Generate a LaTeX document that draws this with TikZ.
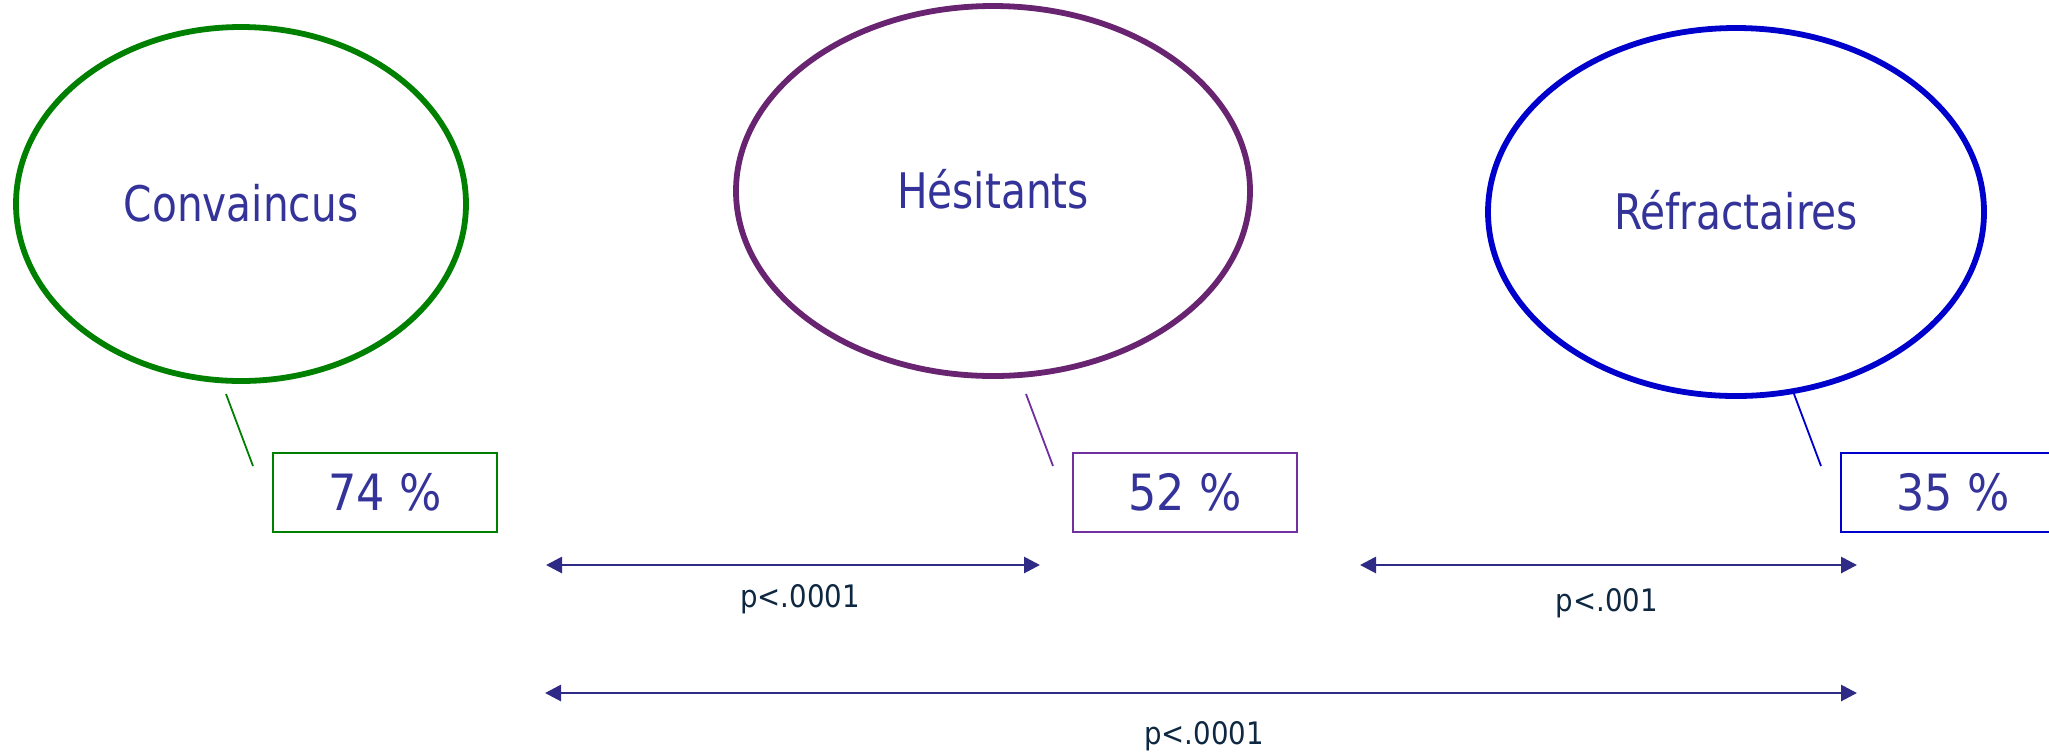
\documentclass[tikz,border=0pt]{standalone}
\usepackage{fontspec}
\setmainfont{DejaVu Sans}[FakeStretch=0.83]
\newfontfamily\widefont{DejaVu Sans}[FakeStretch=0.89]
\usetikzlibrary{shapes.geometric,arrows.meta,calc}

\definecolor{cgreen}{RGB}{0,128,0}
\definecolor{cplum}{RGB}{104,36,112}
\definecolor{cpurple}{RGB}{112,48,160}
\definecolor{cblue}{RGB}{0,0,204}
\definecolor{ctext}{RGB}{51,51,153}
\definecolor{carrow}{RGB}{46,42,134}
\definecolor{clabel}{RGB}{14,40,65}

\begin{document}
\begin{tikzpicture}[x=0.5pt,y=-0.5pt,
  group/.style={ellipse, draw, line width=2.9pt, inner sep=0pt, text=ctext,
    font=\fontsize{24.5}{28}\selectfont, text height=17.9pt, text depth=0pt},
  pctbox/.style={rectangle, draw, line width=1pt, minimum width=112pt,
    minimum height=39.5pt, inner sep=0pt, text=ctext,
    font=\widefont\fontsize{25}{28}\selectfont, text height=18.2pt, text depth=0pt},
  leader/.style={line width=0.9pt},
  cmp/.style={line width=1.4pt, draw=carrow,
    {Triangle[length=8pt,width=8pt]}-{Triangle[length=8pt,width=8pt]}},
  plabel/.style={text=clabel, font=\widefont\fontsize{15.5}{18}\selectfont,
    anchor=base, inner sep=0pt}]

\path[use as bounding box] (0,0) rectangle (2049,752);
\clip (0,0) rectangle (2049,752);

% groups
\node[group, draw=cgreen, minimum width=225pt, minimum height=177pt] (conv) at (241,204) {Convaincus};
\node[group, draw=cplum, minimum width=257pt, minimum height=185pt] (hes) at (993,191) {Hésitants};
\node[group, draw=cblue, minimum width=248pt, minimum height=184pt] (refr) at (1736,212) {Réfractaires};

% percentages
\node[pctbox, draw=cgreen] (p1) at (385,492.5) {74 \%};
\node[pctbox, draw=cpurple] (p2) at (1185,492.5) {52 \%};
\node[pctbox, draw=cblue] (p3) at (1953,492.5) {35 \%};

% callout pointers
\coordinate (l1a) at ($(p1.north west)+(-46,-58)$);
\coordinate (l1b) at ($(p1.north west)+(-19,14)$);
\coordinate (l2a) at ($(p2.north west)+(-46,-58)$);
\coordinate (l2b) at ($(p2.north west)+(-19,14)$);
\coordinate (l3a) at ($(p3.north west)+(-46,-58)$);
\coordinate (l3b) at ($(p3.north west)+(-19,14)$);
\draw[leader, cgreen] (l1a) -- (l1b);
\draw[leader, cpurple] (l2a) -- (l2b);
\draw[leader, cblue] (l3a) -- (l3b);

% comparisons
\coordinate (a1l) at (546,565);
\coordinate (a1r) at (1040,565);
\coordinate (a2l) at (1360,565);
\coordinate (a2r) at (1857,565);
\coordinate (a3l) at (545,693);
\coordinate (a3r) at (1857,693);
\draw[cmp] (a1l) -- (a1r);
\draw[cmp] (a2l) -- (a2r);
\draw[cmp] (a3l) -- (a3r);

\node[plabel] (s1) at (800,607) {p<.0001};
\node[plabel] (s2) at (1607,611) {p<.001};
\node[plabel] (s3) at (1204,744) {p<.0001};
\end{tikzpicture}
\end{document}
